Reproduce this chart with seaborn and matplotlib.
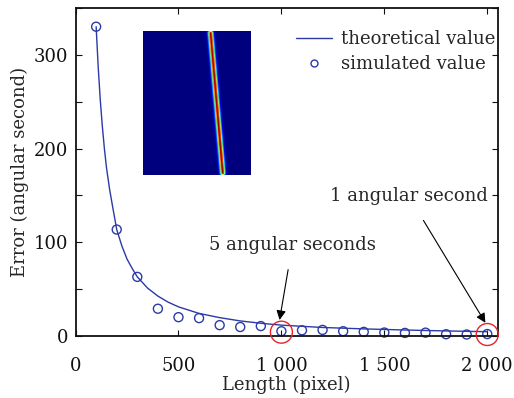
import numpy as np
import matplotlib
matplotlib.use("Agg")
import matplotlib.pyplot as plt
from matplotlib.lines import Line2D
from matplotlib.ticker import MultipleLocator
import seaborn as sns


# simulated points
sim_length = [100, 200, 300, 400, 500, 600, 700, 800, 900, 1000,
              1100, 1200, 1300, 1400, 1500, 1600, 1700, 1800, 1900, 2000]
sim_error = [330, 113.5, 63, 29, 20, 19, 11.5, 9.5, 10.5, 5,
             6, 6.4, 5, 4.3, 3.6, 3.2, 3.5, 1.8, 1.5, 2]

# theoretical curve, sampled by eye
theo_length = [100, 110, 120, 130, 140, 150, 165, 180, 200, 225, 250, 275,
               300, 350, 400, 450, 500, 600, 700, 800, 900, 1000, 1200,
               1400, 1600, 1800, 2000]
theo_error = [330, 287, 252, 224, 200, 180, 157, 138, 113.5, 96, 82, 72,
              63, 51, 42.5, 36, 31, 24, 19.5, 16, 13.5, 11.5, 9,
              7.5, 6.3, 5.3, 4.5]

# highlighted points (red rings)
mark_length = [1000, 2000]
mark_error = [4, 1.5]

x_ticks = [0, 500, 1000, 1500, 2000]
x_labels = ["0", "500", "1 000", "1 500", "2 000"]
y_ticks = [0, 100, 200, 300]

# inset: star streak image, endpoints as fractions of the frame
streak_top = (0.626, 0.015)
streak_bottom = (0.738, 0.985)
streak_width = 1.7
img_rows, img_cols = 144, 107

blue = "#2c3aa6"

sns.set_style("ticks")
plt.rcParams["font.family"] = ["DejaVu Serif", "DejaVu Sans"]
plt.rcParams["font.size"] = 13

fig = plt.figure(figsize=(5.14, 3.98), dpi=100)
ax = fig.add_axes([0.147, 0.156, 0.821, 0.824])

sns.lineplot(x=theo_length, y=theo_error, ax=ax, color=blue, lw=1)
sns.scatterplot(x=sim_length, y=sim_error, ax=ax, marker="o", s=42,
                facecolor="none", edgecolor=blue, linewidth=1, clip_on=False)
sns.scatterplot(x=mark_length, y=mark_error, ax=ax, marker="o", s=250,
                facecolor="none", edgecolor="#e8232a", linewidth=1, zorder=5,
                clip_on=False)

ax.set_xlim(0, 2050)
ax.set_ylim(0, 350)
ax.set_xticks(x_ticks)
ax.set_xticklabels(x_labels)
ax.set_yticks(y_ticks)
ax.yaxis.set_minor_locator(MultipleLocator(50))
ax.tick_params(which="both", direction="in", top=True, right=True,
               length=4, width=0.8, labelsize=13, colors="#111111")
ax.tick_params(axis="x", pad=15)
ax.tick_params(axis="y", pad=5)
for s in ax.spines.values():
    s.set_linewidth(1.3)
    s.set_color("#111111")
ax.set_xlabel("Length (pixel)", fontsize=13, labelpad=1)
ax.set_ylabel("Error (angular second)", fontsize=13, labelpad=4)

ax.annotate("5 angular seconds", xy=(991, 17), xytext=(1053, 97),
            ha="center", va="center", fontsize=13,
            arrowprops=dict(arrowstyle="-|>", color="black", lw=0.8,
                            mutation_scale=14, shrinkA=9, shrinkB=0))
ax.annotate("1 angular second", xy=(1991, 14), xytext=(1619, 149),
            ha="center", va="center", fontsize=13,
            arrowprops=dict(arrowstyle="-|>", color="black", lw=0.8,
                            mutation_scale=14, shrinkA=10, shrinkB=0))

handles = [Line2D([], [], color=blue, lw=1),
           Line2D([], [], color=blue, lw=0, marker="o", markersize=5,
                  markerfacecolor="none", markeredgewidth=1)]
ax.legend(handles, ["theoretical value", "simulated value"], loc="upper right",
          bbox_to_anchor=(1.012, 0.955), frameon=False, fontsize=13,
          handlelength=2.0, borderaxespad=0.1, handletextpad=0.5,
          labelspacing=0.4, borderpad=0.3)

# inset streak image
rr, cc = np.mgrid[0:img_rows, 0:img_cols]
x0, y0 = streak_top[0] * img_cols, streak_top[1] * img_rows
x1, y1 = streak_bottom[0] * img_cols, streak_bottom[1] * img_rows
dx, dy = x1 - x0, y1 - y0
t = np.clip(((cc + 0.5 - x0) * dx + (rr + 0.5 - y0) * dy) / (dx * dx + dy * dy), 0, 1)
dist = np.hypot(cc + 0.5 - (x0 + t * dx), rr + 0.5 - (y0 + t * dy))
streak = np.exp(-dist ** 2 / (2 * streak_width ** 2))

ax_in = fig.add_axes([143 / 514, 1 - 175 / 398, 107 / 514, 144 / 398])
ax_in.imshow(streak, cmap="jet", vmin=0, vmax=1, aspect="auto",
             interpolation="bilinear")
ax_in.set_axis_off()

fig.savefig("out.png", dpi=100)
